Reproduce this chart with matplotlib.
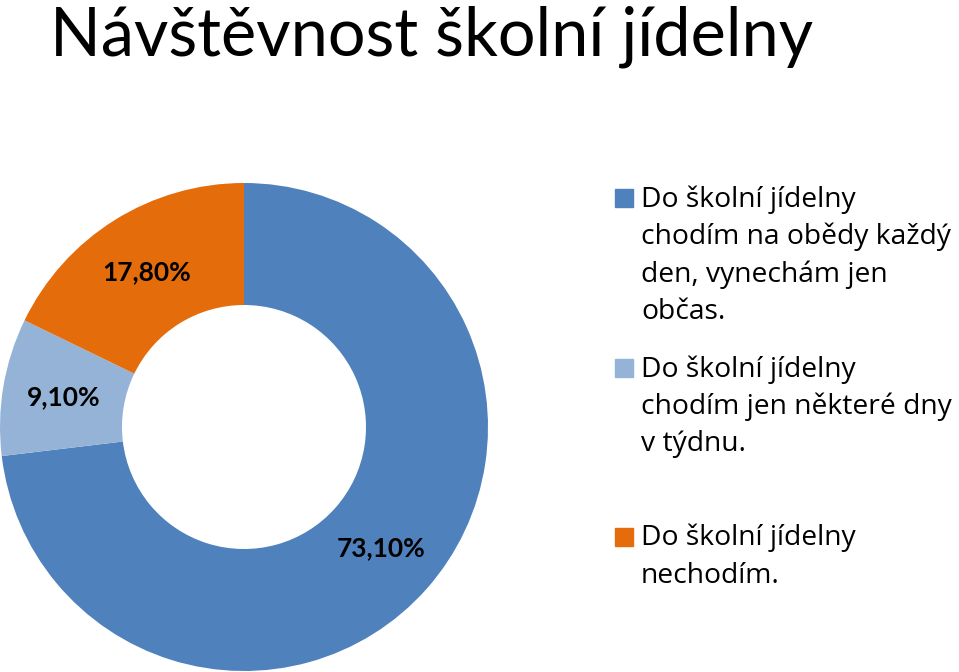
import matplotlib.pyplot as plt
from matplotlib.patches import Rectangle

title = 'Návštěvnost školní jídelny'
labels = ['Do školní jídelny\nchodím na obědy každý\nden, vynechám jen\nobčas.',
          'Do školní jídelny\nchodím jen některé dny\nv týdnu.',
          'Do školní jídelny\nnechodím.']
values = [73.1, 9.1, 17.8]
colors = ['#4F81BD', '#95B3D7', '#E46C0A']

W, H = 959, 672
fig = plt.figure(figsize=(W / 100, H / 100), dpi=100)

ax = fig.add_axes([0 / W, 1 / H, 488 / W, 488 / H])
wedges, _, autotexts = ax.pie(values, colors=colors, startangle=90, counterclock=False,
                              radius=1.0, wedgeprops=dict(width=0.5, linewidth=0),
                              autopct=lambda p: f'{p:.2f}%'.replace('.', ','),
                              pctdistance=0.75)
for t in autotexts:
    t.set_fontfamily('Lato')
    t.set_fontweight('bold')
    t.set_fontsize(19)
ax.set_xlim(-1, 1)
ax.set_ylim(-1, 1)
ax.set_aspect('equal')

fig.text(50 / W, 1 - 56 / H, title, fontsize=48, family='Lato', va='baseline')

# legend drawn by hand to match the spacing
tops = [185, 355, 524]
sq_tops = [189, 359, 528]
for lab, col, top, sq in zip(labels, colors, tops, sq_tops):
    fig.patches.append(Rectangle((615 / W, 1 - (sq + 18) / H), 18 / W, 18 / H,
                                 transform=fig.transFigure, color=col))
    fig.text(641 / W, 1 - top / H, lab, fontsize=20.3, family='Open Sans',
             va='top', linespacing=1.43)

fig.savefig('out.png', dpi=100)
